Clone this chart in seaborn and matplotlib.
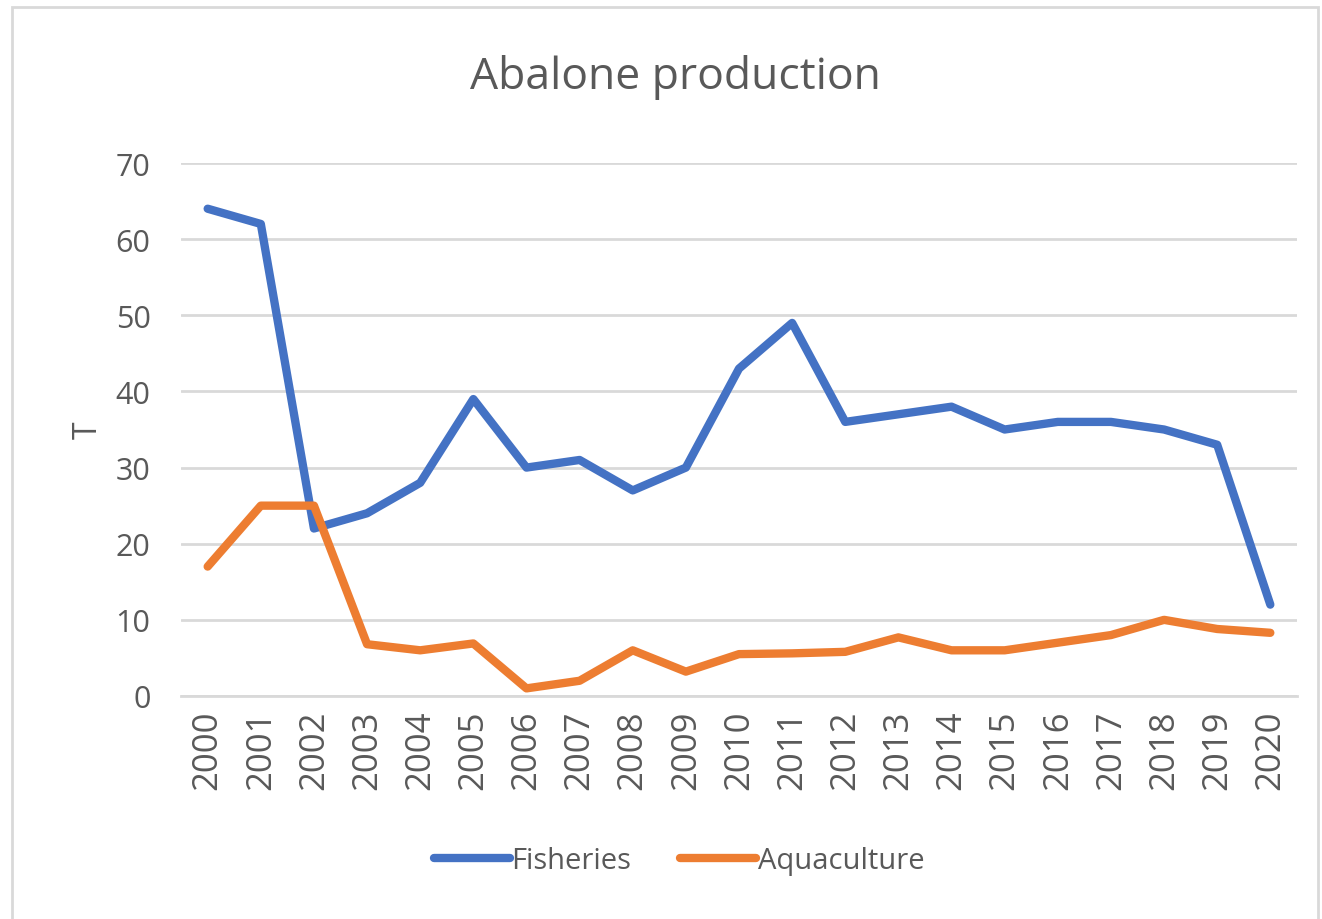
import matplotlib
matplotlib.use("Agg")
import matplotlib.pyplot as plt
import seaborn as sns
import pandas as pd
from matplotlib.patches import Rectangle

years = [str(y) for y in range(2000, 2021)]
fisheries = [64, 62, 22, 24, 28, 39, 30, 31, 27, 30, 43, 49, 36, 37, 38, 35, 36, 36, 35, 33, 12]
aquaculture = [17, 25, 25, 6.8, 6.0, 6.9, 1.0, 2.0, 6.0, 3.2, 5.5, 5.6, 5.8, 7.7, 6.0, 6.0, 7.0, 8.0, 10.0, 8.8, 8.3]
series_names = ["Fisheries", "Aquaculture"]
colors = ["#4472C4", "#ED7D31"]
yticks = [0, 10, 20, 30, 40, 50, 60, 70]

df = pd.DataFrame({
    "Year": years * 2,
    "Value": fisheries + aquaculture,
    "Series": [series_names[0]] * len(years) + [series_names[1]] * len(years),
})

sns.set_theme(style="white")
plt.rcParams['font.family'] = ['Open Sans', 'DejaVu Sans']
txt = "#595959"

fig = plt.figure(figsize=(13.22, 9.2), dpi=100)
ax = fig.add_axes([0.137, 0.2424, 0.844, 0.5793])

sns.lineplot(data=df, x="Year", y="Value", hue="Series", palette=colors,
             linewidth=6, ax=ax, sort=False, legend=True,
             solid_capstyle="round", solid_joinstyle="round")

ax.set_xlim(-0.5, len(years) - 0.5)
ax.set_ylim(0, 70)
ax.set_yticks(yticks)
ax.set_yticklabels([str(v) for v in yticks], fontsize=22, color=txt)
ax.set_xticks(range(len(years)))
ax.set_xticklabels(years, rotation=90, fontsize=25, color=txt)
ax.tick_params(axis="y", length=0, pad=22)
ax.tick_params(axis="x", length=0, pad=10)
ax.grid(axis="y", color="#D9D9D9", linewidth=2)
ax.set_axisbelow(True)
for s in ["top", "right", "left"]:
    ax.spines[s].set_visible(False)
ax.spines["bottom"].set_color("#D9D9D9")
ax.spines["bottom"].set_linewidth(2)
ax.set_xlabel("")
ax.set_ylabel("")
fig.text(88 / 1322, 1 - 430 / 920, "T", rotation=90, fontsize=23, color=txt,
         ha="center", va="center")
fig.text(675 / 1322, 1 - 77 / 920, "Abalone production", fontsize=32, color=txt,
         ha="center", va="center")

handles, labels = ax.get_legend_handles_labels()
ax.get_legend().remove()
leg = fig.legend(handles, labels, loc="center", bbox_to_anchor=(679 / 1322, 1 - 862 / 920),
                 ncol=2, frameon=False, fontsize=21, handlelength=2.6,
                 handletextpad=0.05, columnspacing=1.7)
for t in leg.get_texts():
    t.set_color(txt)
for h in leg.get_lines():
    h.set_linewidth(6)
    h.set_solid_capstyle("round")

fig.patches.append(Rectangle((0.009, -0.1), 0.988, 1.091, transform=fig.transFigure,
                             fill=False, edgecolor="#D9D9D9", linewidth=2))

fig.savefig("out.png", dpi=100)
